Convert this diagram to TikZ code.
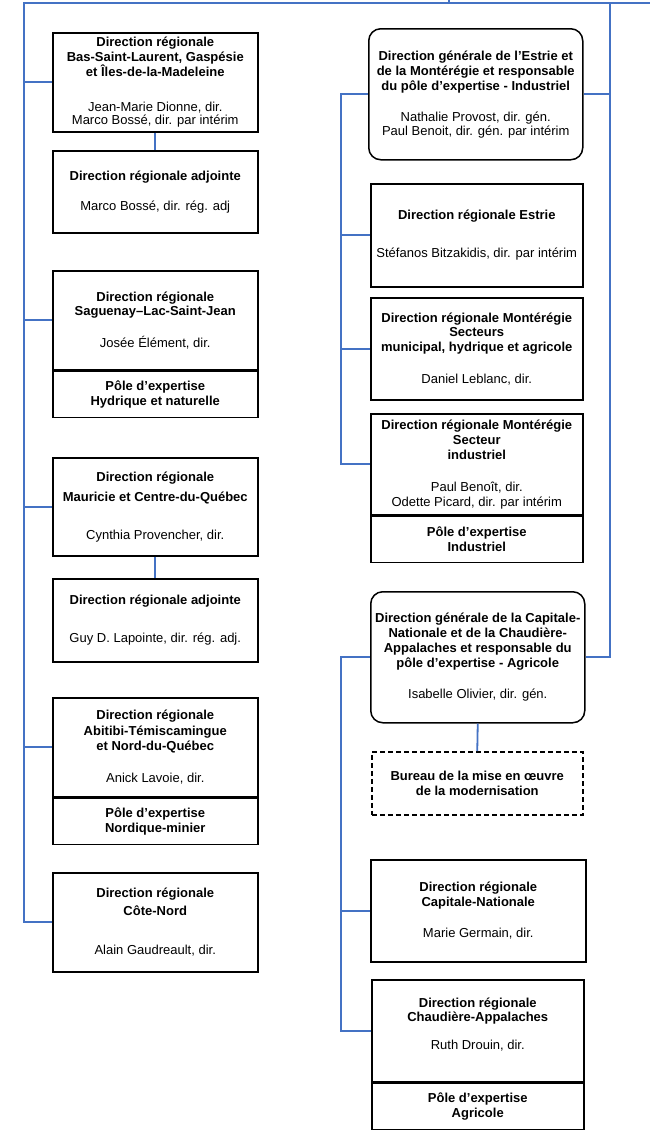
\documentclass[tikz,border=0pt]{standalone}
\usepackage{fontspec}
\setmainfont{Liberation Sans}
\usepackage{tikz}
\usetikzlibrary{positioning}
\definecolor{orgblue}{RGB}{68,114,196}
\tikzset{
    box/.style={draw, line width=1.5pt, align=center, inner sep=0pt, anchor=north west,
        font=\fontsize{13pt}{15pt}\selectfont},
    rbox/.style={box, rounded corners=12pt},
    dbox/.style={box, dash pattern=on 5pt off 3pt},
    pole/.style={box, anchor=north, minimum height=46pt},
    link/.style={draw=orgblue, line width=1.8pt},
}
\newcommand{\hd}[1]{\textbf{#1}}

\begin{document}
\begin{tikzpicture}[x=1pt, y=-1pt]
    \useasboundingbox (0,0) rectangle (650,1130);
    % Left column
    \node[box, minimum width=205pt, minimum height=99pt] (bsl) at (52,32)
        {\hd{Direction régionale}\\\hd{Bas-Saint-Laurent, Gaspésie}\\\hd{et Îles-de-la-Madeleine}\\[20pt]
         Jean-Marie Dionne, dir.\\[-2pt]Marco Bossé, dir. par intérim};
    \node[box, minimum width=205pt, minimum height=82pt] (bsladj) at (52,150)
        {\hd{Direction régionale adjointe}\\[15pt]Marco Bossé, dir. rég. adj};
    \node[box, minimum width=205pt, minimum height=99pt] (sag) at (52,270)
        {\hd{Direction régionale}\\[-1pt]\hd{Saguenay–Lac-Saint-Jean}\\[17pt]Josée Élément, dir.};
    \node[pole, minimum width=205pt] (sagp) at (sag.south)
        {\hd{Pôle d’expertise}\\\hd{Hydrique et naturelle}};
    \node[box, minimum width=205pt, minimum height=98pt] (mau) at (52,457)
        {\hd{Direction régionale}\\[5pt]\hd{Mauricie et Centre-du-Québec}\\[23pt]Cynthia Provencher, dir.};
    \node[box, minimum width=205pt, minimum height=83pt] (mauadj) at (52,578)
        {\hd{Direction régionale adjointe}\\[23pt]Guy D. Lapointe, dir. rég. adj.};
    \node[box, minimum width=205pt, minimum height=99pt] (abi) at (52,697)
        {\hd{Direction régionale}\\[1pt]\hd{Abitibi-Témiscamingue}\\\hd{et Nord-du-Québec}\\[17pt]Anick Lavoie, dir.};
    \node[pole, minimum width=205pt] (abip) at (abi.south)
        {\hd{Pôle d’expertise}\\\hd{Nordique-minier}};
    \node[box, minimum width=205pt, minimum height=99pt] (cn) at (52,872)
        {\hd{Direction régionale}\\[3pt]\hd{Côte-Nord}\\[24pt]Alain Gaudreault, dir.};

    % Right column
    \node[rbox, minimum width=214pt, minimum height=131pt] (dge) at (368,28)
        {\hd{Direction générale de l’Estrie et}\\\hd{de la Montérégie et responsable}\\\hd{du pôle d’expertise - Industriel}\\[16pt]
         Nathalie Provost, dir. gén.\\[-1pt]Paul Benoit, dir. gén. par intérim};
    \node[box, minimum width=212pt, minimum height=103pt] (est) at (370,183)
        {\hd{Direction régionale Estrie}\\[23pt]Stéfanos Bitzakidis, dir. par intérim};
    \node[box, minimum width=212pt, minimum height=102pt] (mont1) at (370,297)
        {\hd{Direction régionale Montérégie}\\[-1pt]\hd{Secteurs}\\\hd{municipal, hydrique et agricole}\\[17pt]Daniel Leblanc, dir.};
    \node[box, minimum width=212pt, minimum height=101pt] (mont2) at (370,413)
        {\hd{Direction régionale Montérégie}\\\hd{Secteur}\\\hd{industriel}\\[17pt]
         Paul Benoît, dir.\\Odette Picard, dir. par intérim};
    \node[pole, minimum width=212pt] (mont2p) at (mont2.south)
        {\hd{Pôle d’expertise}\\\hd{Industriel}};
    \node[rbox, minimum width=214pt, minimum height=131pt] (dgc) at (370,591)
        {\hd{Direction générale de la Capitale-}\\\hd{Nationale et de la Chaudière-}\\\hd{Appalaches et responsable du}\\\hd{pôle d’expertise - Agricole}\\[16pt]
         Isabelle Olivier, dir. gén.};
    \node[dbox, minimum width=211pt, minimum height=63pt] (bur) at (371,751)
        {\hd{Bureau de la mise en œuvre}\\\hd{de la modernisation}};
    \node[box, minimum width=215pt, minimum height=102pt] (cap) at (370,859)
        {\hd{Direction régionale}\\\hd{Capitale-Nationale}\\[16pt]Marie Germain, dir.};
    \node[box, minimum width=212pt, minimum height=102pt] (cha) at (371,979)
        {\hd{Direction régionale}\\[-1pt]\hd{Chaudière-Appalaches}\\[13pt]Ruth Drouin, dir.\\~};
    \node[pole, minimum width=212pt] (chap) at (cha.south)
        {\hd{Pôle d’expertise}\\\hd{Agricole}};

    % Trunk points
    \coordinate (stub) at (449,0);
    \coordinate (tl) at (24,3);
    \coordinate (tr) at (650,3);
    \coordinate (rt) at (610,3);
    \coordinate (rl) at (341,3);

    % Connectors
    \draw[link] (cn.west) -| (tl) -- (tr);
    \draw[link] (stub) -- (stub |- tl);
    \foreach \n in {bsl,sag,mau,abi}
        \draw[link] (\n.west) -- (\n.west -| tl);
    \draw[link] (bsl.south) -- (bsladj.north);
    \draw[link] (mau.south) -- (mauadj.north);
    \draw[link] (dgc.east) -| (rt);
    \draw[link] (dge.east) -- (dge.east -| rt);
    \draw[link] (dge.west) -| (rl |- mont2.west) -- (mont2.west);
    \foreach \n in {est,mont1}
        \draw[link] (\n.west) -- (\n.west -| rl);
    \draw[link] (dgc.west) -| (rl |- cha.west) -- (cha.west);
    \draw[link] (cap.west) -- (cap.west -| rl);
    \draw[link] (dgc.south) -- (bur.north);
\end{tikzpicture}
\end{document}
